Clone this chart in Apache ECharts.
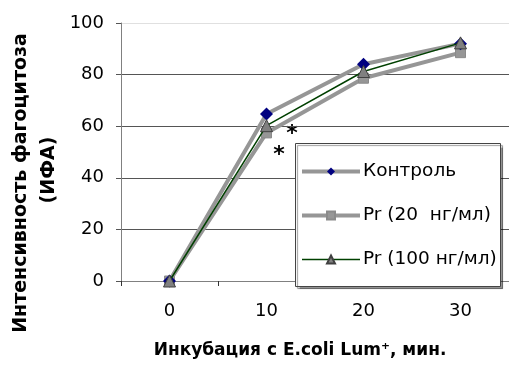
<!DOCTYPE html>
<html><head><meta charset="utf-8">
<script src="https://cdn.jsdelivr.net/npm/echarts@6/dist/echarts.min.js"></script>
<style>html,body{margin:0;padding:0;background:#fff}#c{width:509px;height:365px}</style>
</head><body><div id="c"></div>
<script>
const categories = ['0', '10', '20', '30'];
const control = [0, 64.7, 84, 92];
const pr20 = [0, 57.4, 78.6, 88.5];
const pr100 = [0, 60.2, 81.2, 92.3];
const seriesNames = ['Контроль', 'Pr (20  нг/мл)', 'Pr (100 нг/мл)'];
const yTicks = [0, 20, 40, 60, 80, 100];
const yTitle1 = 'Интенсивность фагоцитоза';
const yTitle2 = '(ИФА)';
const xTitle = 'Инкубация с E.coli Lum⁺, мин.';

const chart = echarts.init(document.getElementById('c'));
const F = '"DejaVu Sans", sans-serif';
const GRAY = '#969696';
chart.setOption({
  animation: false,
  grid: {left: 121, top: 23, width: 389, height: 258},
  xAxis: {
    type: 'category', data: categories, boundaryGap: true,
    axisLine: {lineStyle: {color: '#808080', width: 1}},
    axisTick: {show: true, length: 5, inside: false, lineStyle: {color: '#333'}},
    axisLabel: {color: '#000', fontSize: 18, fontFamily: F, margin: 21}
  },
  yAxis: {
    type: 'value', min: yTicks[0], max: yTicks[yTicks.length - 1], interval: 20,
    axisLine: {show: true, lineStyle: {color: '#808080'}},
    axisTick: {show: true, length: 5, lineStyle: {color: '#555'}},
    axisLabel: {color: '#000', fontSize: 18, fontFamily: F, margin: 17},
    splitLine: {lineStyle: {color: ['#555', '#555', '#555', '#555', '#555', '#e0e0e0'], width: 1}}
  },
  legend: {
    orient: 'vertical', left: 293, top: 143, z: 10,
    padding: [19, 8, 19, 7], itemGap: 25, itemWidth: 58, itemHeight: 10,
    textStyle: {color: '#000', fontSize: 18.5, fontFamily: F, padding: [0, 0, 0, -2]},
    data: [
      {name: seriesNames[0], lineStyle: {width: 4, color: GRAY}},
      {name: seriesNames[1], lineStyle: {width: 4, color: GRAY}},
      {name: seriesNames[2], lineStyle: {width: 1.5, color: '#004000'}}
    ]
  },
  series: [
    {name: seriesNames[0], type: 'line', data: control, z: 3,
     lineStyle: {color: GRAY, width: 4}, symbol: 'diamond', symbolSize: 13,
     itemStyle: {color: '#000080', borderColor: '#000080', borderWidth: 0}},
    {name: seriesNames[1], type: 'line', data: pr20, z: 2,
     lineStyle: {color: GRAY, width: 4}, symbol: 'rect', symbolSize: 10,
     itemStyle: {color: GRAY, borderColor: '#8a8a8a', borderWidth: 1}},
    {name: seriesNames[2], type: 'line', data: pr100, z: 4,
     lineStyle: {color: '#004000', width: 1.5}, symbol: 'triangle', symbolSize: 12,
     itemStyle: {color: '#808080', borderColor: '#404040', borderWidth: 1}}
  ],
  graphic: [
    {type: 'rect', z: 5, shape: {x: 295.5, y: 143.5, width: 205, height: 143},
     style: {fill: '#fff', stroke: '#444', lineWidth: 1, shadowColor: 'rgba(0,0,0,0.4)', shadowOffsetX: 2, shadowOffsetY: 2, shadowBlur: 1}},
    {type: 'text', x: 21, y: 183, rotation: Math.PI / 2, style: {text: yTitle1, font: 'bold 19px ' + F, fill: '#000', align: 'center', verticalAlign: 'middle'}},
    {type: 'text', x: 49, y: 170, rotation: Math.PI / 2, style: {text: yTitle2, font: 'bold 19px ' + F, fill: '#000', align: 'center', verticalAlign: 'middle'}},
    {type: 'text', x: 300, y: 351, style: {text: xTitle, font: 'bold 17px ' + F, fill: '#000', align: 'center', verticalAlign: 'middle'}},
    {type: 'text', x: 292, y: 134, style: {text: '*', font: 'bold 22px ' + F, fill: '#000', align: 'center', verticalAlign: 'middle'}},
    {type: 'text', x: 279, y: 155, style: {text: '*', font: 'bold 22px ' + F, fill: '#000', align: 'center', verticalAlign: 'middle'}}
  ]
});
</script></body></html>
